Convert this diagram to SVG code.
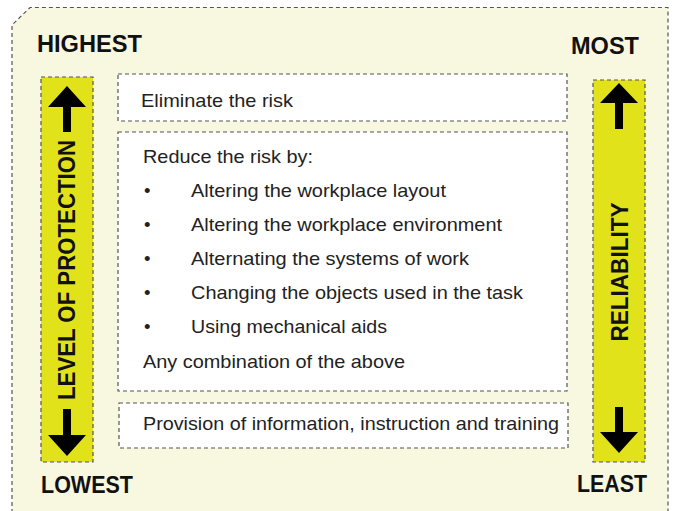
<svg xmlns="http://www.w3.org/2000/svg" width="675" height="511" viewBox="0 0 675 511">
  <style>
    .dash { stroke: #555; stroke-width: 1.2; stroke-dasharray: 4 3; }
    .box { fill: #ffffff; }
    .bar { fill: #e2e21a; }
    .head { font-family: "Liberation Sans", Arial, sans-serif; font-weight: bold; font-size: 23px; fill: #111; }
    .body { font-family: "Liberation Sans", Arial, sans-serif; font-size: 18.5px; fill: #222; }
    .arrow { fill: #000; }
  </style>

  <rect width="675" height="511" fill="#ffffff"/>

  <!-- outer panel with chamfered top-left corner -->
  <g id="panel">
    <path class="dash" d="M12,520 L12,25 L30,7.5 L668,7.5 L668,520" fill="#f8f7e0"/>
  </g>

  <!-- corner labels -->
  <g id="label-highest"><text class="head" x="37" y="52" textLength="105" lengthAdjust="spacingAndGlyphs">HIGHEST</text></g>
  <g id="label-lowest"><text class="head" x="41" y="493" textLength="92" lengthAdjust="spacingAndGlyphs">LOWEST</text></g>
  <g id="label-most"><text class="head" x="571" y="54" textLength="68" lengthAdjust="spacingAndGlyphs">MOST</text></g>
  <g id="label-least"><text class="head" x="577" y="492" textLength="70" lengthAdjust="spacingAndGlyphs">LEAST</text></g>

  <!-- left scale: level of protection -->
  <g id="scale-protection">
    <rect class="bar dash" x="41" y="77" width="52" height="385"/>
    <polygon class="arrow" points="67,86 86,107 71,107 71,132 63,132 63,107 48,107"/>
    <polygon class="arrow" points="67,456 86,435 71,435 71,409 63,409 63,435 48,435"/>
    <text class="head" transform="translate(75,270) rotate(-90)" text-anchor="middle" textLength="260" lengthAdjust="spacingAndGlyphs">LEVEL OF PROTECTION</text>
  </g>

  <!-- right scale: reliability -->
  <g id="scale-reliability">
    <rect class="bar dash" x="593" y="80" width="52" height="382"/>
    <polygon class="arrow" points="619,83 638,103 623,103 623,129 615,129 615,103 600,103"/>
    <polygon class="arrow" points="619,453 638,432 623,432 623,407 615,407 615,432 600,432"/>
    <text class="head" transform="translate(628,272) rotate(-90)" text-anchor="middle" textLength="139" lengthAdjust="spacingAndGlyphs">RELIABILITY</text>
  </g>

  <!-- control measures, most to least effective -->
  <g id="eliminate">
    <rect class="box dash" x="118" y="74" width="449" height="47"/>
    <text class="body" x="141" y="107" textLength="152" lengthAdjust="spacingAndGlyphs">Eliminate the risk</text>
  </g>

  <g id="reduce">
    <rect class="box dash" x="118" y="132" width="449" height="259"/>
    <text class="body" x="143" y="163" textLength="170" lengthAdjust="spacingAndGlyphs">Reduce the risk by:</text>
    <g>
      <text class="body" x="144" y="197">•</text>
      <text class="body" x="191" y="197" textLength="255" lengthAdjust="spacingAndGlyphs">Altering the workplace layout</text>
      <text class="body" x="144" y="231">•</text>
      <text class="body" x="191" y="231" textLength="311" lengthAdjust="spacingAndGlyphs">Altering the workplace environment</text>
      <text class="body" x="144" y="265">•</text>
      <text class="body" x="191" y="265" textLength="278" lengthAdjust="spacingAndGlyphs">Alternating the systems of work</text>
      <text class="body" x="144" y="299">•</text>
      <text class="body" x="191" y="299" textLength="332" lengthAdjust="spacingAndGlyphs">Changing the objects used in the task</text>
      <text class="body" x="144" y="333">•</text>
      <text class="body" x="191" y="333" textLength="196" lengthAdjust="spacingAndGlyphs">Using mechanical aids</text>
    </g>
    <text class="body" x="143" y="368" textLength="262" lengthAdjust="spacingAndGlyphs">Any combination of the above</text>
  </g>

  <g id="information">
    <rect class="box dash" x="119" y="403" width="449" height="45"/>
    <text class="body" x="143" y="430" textLength="416" lengthAdjust="spacingAndGlyphs">Provision of information, instruction and training</text>
  </g>
</svg>
